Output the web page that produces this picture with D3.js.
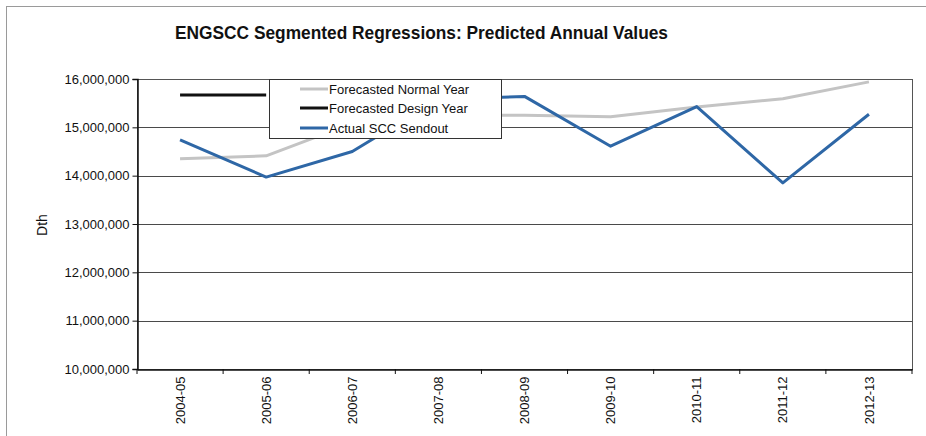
<!DOCTYPE html>
<html>
<head>
<meta charset="utf-8">
<script src="https://cdn.jsdelivr.net/npm/d3@7"></script>
<style>
  html, body { margin: 0; padding: 0; background: #fff; }
  svg { display: block; font-family: "Liberation Sans", Arial, sans-serif; }
</style>
</head>
<body>
<svg id="chart" width="926" height="436"></svg>
<script>
const categories = ["2004-05","2005-06","2006-07","2007-08","2008-09","2009-10","2010-11","2011-12","2012-13"];
const normalYear = [14350000, 14410000, 15080000, 15250000, 15250000, 15220000, 15420000, 15590000, 15940000];
const designYear = [15670000, 15670000, null, null, null, null, null, null, null];
const actualSendout = [14740000, 13970000, 14500000, 15580000, 15640000, 14610000, 15430000, 13850000, 15270000];
const yTicks = [10000000, 11000000, 12000000, 13000000, 14000000, 15000000, 16000000];
const seriesNames = ["Forecasted Normal Year", "Forecasted Design Year", "Actual SCC Sendout"];
const seriesColors = ["#c4c4c4", "#111111", "#2e67a6"];
const titleText = "ENGSCC Segmented Regressions: Predicted Annual Values";
const yLabel = "Dth";

const svg = d3.select("#chart");
const L = 137, R = 912, T = 79, B = 369;

// outer frame
svg.append("line").attr("x1", 6).attr("x2", 926).attr("y1", 6.5).attr("y2", 6.5).attr("stroke", "#9a9a9a").attr("stroke-width", 1);
svg.append("line").attr("x1", 6.5).attr("x2", 6.5).attr("y1", 6).attr("y2", 436).attr("stroke", "#9a9a9a").attr("stroke-width", 1);

// title
svg.append("text").attr("x", 175).attr("y", 39).attr("font-size", 18).attr("font-weight", "bold")
  .attr("textLength", 493).attr("lengthAdjust", "spacingAndGlyphs").attr("fill", "#111").text(titleText);

const x = d3.scaleBand().domain(categories).range([L, R]).paddingInner(0).paddingOuter(0);
const y = d3.scaleLinear().domain([10000000, 16000000]).range([B, T]);
const cx = c => x(c) + x.bandwidth() / 2;

// gridlines
svg.append("g").selectAll("line").data(yTicks).join("line")
  .attr("x1", L).attr("x2", R).attr("y1", d => Math.round(y(d)) + 0.5).attr("y2", d => Math.round(y(d)) + 0.5)
  .attr("stroke", "#4a4a4a").attr("stroke-width", 1);

// plot border
svg.append("rect").attr("x", L + 0.5).attr("y", T + 0.5).attr("width", R - L).attr("height", B - T)
  .attr("fill", "none").attr("stroke", "#555").attr("stroke-width", 1);

// y axis
const yAxis = d3.axisLeft(y).tickValues(yTicks).tickSize(5).tickPadding(3).tickFormat(d3.format(","));
const gy = svg.append("g").attr("transform", `translate(${L + 0.5},0)`).call(yAxis);
gy.select(".domain").attr("stroke", "#111").attr("stroke-width", 1.5);
gy.selectAll(".tick line").attr("stroke", "#111");
gy.selectAll("text").attr("font-size", 13).attr("fill", "#111").attr("font-family", "Liberation Sans, Arial, sans-serif");

// x axis
const xAxis = d3.axisBottom(x).tickSize(0).tickPadding(0);
const gx = svg.append("g").attr("transform", `translate(0,${B + 0.5})`).call(xAxis);
gx.select(".domain").attr("stroke", "#111").attr("stroke-width", 1.5);
gx.selectAll(".tick text")
  .attr("font-size", 13).attr("fill", "#111").attr("font-family", "Liberation Sans, Arial, sans-serif")
  .attr("transform", "rotate(-90)").attr("text-anchor", "end").attr("x", -7).attr("y", 0).attr("dy", "0.35em");
// boundary tick marks
svg.append("g").selectAll("line").data(categories.concat(["__end"])).join("line")
  .attr("x1", (d, i) => i < categories.length ? x(d) : R).attr("x2", (d, i) => i < categories.length ? x(d) : R)
  .attr("y1", B).attr("y2", B + 5).attr("stroke", "#111").attr("stroke-width", 1);

// y label
svg.append("text").attr("transform", `translate(47,225) rotate(-90)`).attr("text-anchor", "middle")
  .attr("font-size", 14).attr("fill", "#111").text(yLabel);

// lines
const allSeries = [normalYear, designYear, actualSendout];
const line = d3.line().defined(d => d.v != null).x(d => cx(d.c)).y(d => y(d.v));
allSeries.forEach((vals, i) => {
  const data = categories.map((c, j) => ({ c, v: vals[j] }));
  svg.append("path").datum(data).attr("d", line).attr("fill", "none")
    .attr("stroke", seriesColors[i]).attr("stroke-width", 3).attr("stroke-linejoin", "round");
});

// legend
const lg = svg.append("g");
lg.append("rect").attr("x", 269.5).attr("y", 79.5).attr("width", 232).attr("height", 59)
  .attr("fill", "#fff").attr("stroke", "#333").attr("stroke-width", 1);
const rowY = [89, 108, 128];
seriesNames.forEach((n, i) => {
  lg.append("line").attr("x1", 300).attr("x2", 328).attr("y1", rowY[i]).attr("y2", rowY[i])
    .attr("stroke", seriesColors[i]).attr("stroke-width", 3);
  lg.append("text").attr("x", 329).attr("y", rowY[i]).attr("dy", "0.35em")
    .attr("font-size", 13).attr("fill", "#111").text(n);
});
</script>
</body>
</html>
